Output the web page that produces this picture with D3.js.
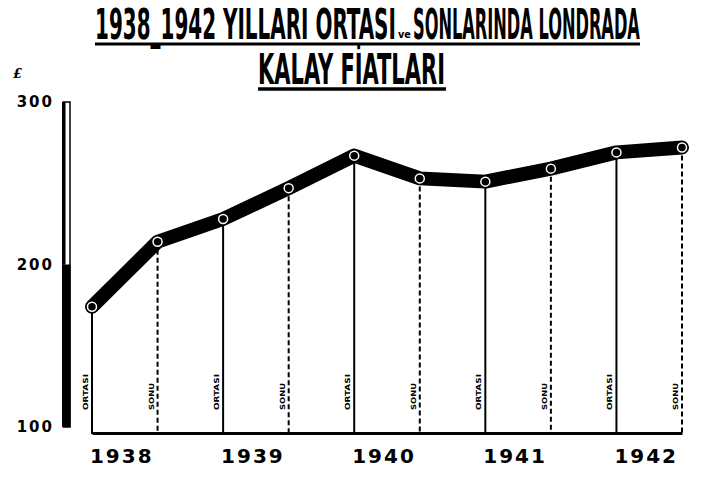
<!DOCTYPE html>
<html>
<head>
<meta charset="utf-8">
<script src="https://cdn.jsdelivr.net/npm/d3@7"></script>
<style>
  body {margin:0; background:#fff;}
  svg {display:block;}
</style>
</head>
<body>
<svg width="702" height="481"></svg>
<script>
// Londra kalay fiyatları (sterlin / ton), yıl ortası ve yıl sonu
var periods = ["1938o","1938s","1939o","1939s","1940o","1940s","1941o","1941s","1942o","1942s"];
var kinds = ["ORTASI","SONU","ORTASI","SONU","ORTASI","SONU","ORTASI","SONU","ORTASI","SONU"];
var prices = [174, 214, 228, 247, 267, 253, 251, 259, 269, 272];
var years = ["1938","1939","1940","1941","1942"];
var yTicks = [100, 200, 300];

var svg = d3.select("svg"),
    baseY = 433;

var x = d3.scalePoint().domain(periods).range([92, 682]);
var y = d3.scaleLinear().domain([100, 300]).range([427, 102]);

// squeeze a text horizontally so it spans x0..x1
function titleText(s, x0, x1, yb, size) {
  var t = svg.append("text")
    .style("font-family", "DejaVu Sans Condensed, DejaVu Sans")
    .style("font-weight", "bold").style("font-size", size + "px")
    .text(s);
  var w = t.node().getComputedTextLength();
  t.attr("transform", "translate(" + x0 + "," + yb + ") scale(" + ((x1 - x0) / w) + ",1)");
  return t;
}

// title
titleText("1938_1942 YILLARI ORTASI", 95, 396, 39, 42);
titleText("ve", 398, 411, 38, 11);
titleText("SONLARINDA LONDRADA", 413, 640, 39, 42);
svg.append("line").attr("x1", 95).attr("x2", 640).attr("y1", 44).attr("y2", 44)
    .attr("stroke", "#000").attr("stroke-width", 3);

titleText("KALAY FİATLARI", 258, 445, 84, 42);
svg.append("line").attr("x1", 258).attr("x2", 446).attr("y1", 89).attr("y2", 89)
    .attr("stroke", "#000").attr("stroke-width", 3.5);

// y axis: bar gauge
svg.append("text").attr("x", 13).attr("y", 78)
    .style("font-family", "DejaVu Serif").style("font-style", "italic")
    .style("font-weight", "bold").style("font-size", "13px").text("£");

svg.append("rect")
    .attr("x", 63.5).attr("y", y(300))
    .attr("width", 6.5).attr("height", y(100) - y(300))
    .attr("fill", "#fff").attr("stroke", "#000").attr("stroke-width", 1.5);
svg.append("rect")
    .attr("x", 62).attr("y", y(300))
    .attr("width", 3.5).attr("height", y(200) - y(300)).attr("fill", "#000");
svg.append("rect")
    .attr("x", 62).attr("y", y(200))
    .attr("width", 8.5).attr("height", y(100) - y(200)).attr("fill", "#000");

var yAxis = svg.append("g")
    .attr("transform", "translate(60,0)")
    .call(d3.axisLeft(y).tickValues(yTicks).tickSize(0).tickPadding(6));
yAxis.select(".domain").remove();
yAxis.selectAll("text")
    .style("font-family", "DejaVu Sans").style("font-weight", "bold")
    .style("font-size", "15px").style("letter-spacing", "2px").attr("fill", "#000");

// x axis baseline
var xAxis = svg.append("g")
    .attr("transform", "translate(0," + baseY + ")")
    .call(d3.axisBottom(x).tickSize(0).tickFormat(""));
xAxis.select(".domain").attr("stroke", "#000").attr("stroke-width", 3);

// drop lines
svg.append("g").selectAll("line")
  .data(periods)
  .enter().append("line")
    .attr("x1", function(d) { return x(d); })
    .attr("x2", function(d) { return x(d); })
    .attr("y1", function(d, i) { return y(prices[i]); })
    .attr("y2", baseY + 1)
    .attr("stroke", "#000")
    .attr("stroke-width", 2)
    .attr("stroke-dasharray", function(d, i) { return kinds[i] === "SONU" ? "5,3" : null; });

// ortası / sonu labels
svg.append("g").selectAll("text")
  .data(periods)
  .enter().append("text")
    .attr("transform", function(d) { return "translate(" + (x(d) - 4) + ",410) rotate(-90)"; })
    .attr("textLength", function(d, i) { return kinds[i] === "SONU" ? 27 : 36; })
    .attr("lengthAdjust", "spacingAndGlyphs")
    .style("font-family", "DejaVu Sans Condensed, DejaVu Sans")
    .style("font-weight", "bold").style("font-size", "7px")
    .text(function(d, i) { return kinds[i]; });

// year labels
svg.append("g").selectAll("text")
  .data(years)
  .enter().append("text")
    .attr("x", function(d, i) { return (x(periods[2 * i]) + x(periods[2 * i + 1])) / 2 - 3; })
    .attr("y", 463)
    .attr("text-anchor", "middle")
    .style("font-family", "DejaVu Sans").style("font-weight", "bold")
    .style("font-size", "20px").style("letter-spacing", "2px")
    .text(function(d) { return d; });

// price line
var line = d3.line()
    .x(function(d, i) { return x(periods[i]); })
    .y(function(d) { return y(d); });

svg.append("path")
    .datum(prices)
    .attr("d", line)
    .attr("fill", "none")
    .attr("stroke", "#000")
    .attr("stroke-width", 14)
    .attr("stroke-linejoin", "round")
    .attr("stroke-linecap", "round");

svg.append("g").selectAll("circle")
  .data(prices)
  .enter().append("circle")
    .attr("cx", function(d, i) { return x(periods[i]); })
    .attr("cy", function(d) { return y(d); })
    .attr("r", 4.5)
    .attr("fill", "#000")
    .attr("stroke", "#fff")
    .attr("stroke-width", 1.5);
</script>
</body>
</html>
